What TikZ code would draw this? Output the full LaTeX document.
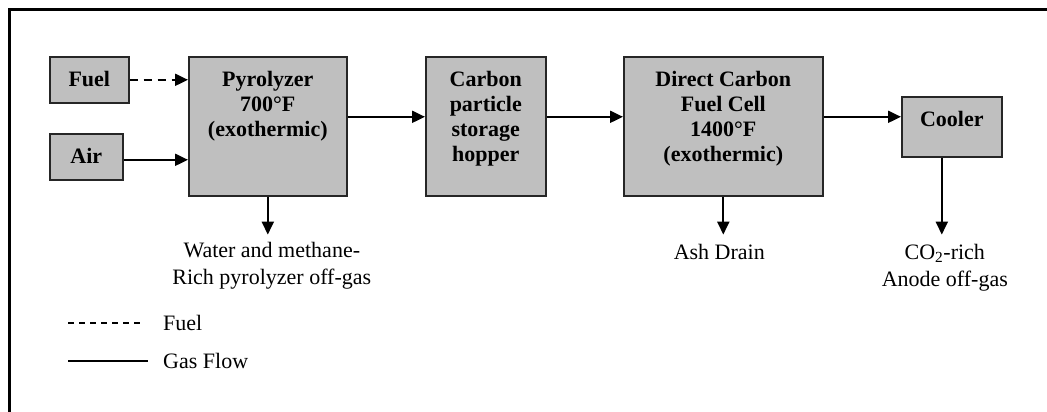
\documentclass[tikz,border=0pt]{standalone}
\usepackage{fontspec}
\setmainfont{Liberation Serif}
\usetikzlibrary{positioning,calc,arrows.meta}
\def\drawflow{\draw[flow]}
\def\unitnode{\node[unit]}

\begin{document}
\begin{tikzpicture}[x=1pt,y=-1pt,
  unit/.style={draw=black!85,line width=1.6pt,fill=gray!50,anchor=north west,inner sep=0pt},
  unittext/.style={align=center,inner sep=0pt,font=\fontsize{22}{25}\selectfont\bfseries},
  outlabel/.style={align=center,inner sep=0pt,font=\fontsize{22}{27}\selectfont},
  legtext/.style={anchor=west,inner sep=0pt,font=\fontsize{22}{27}\selectfont},
  flow/.style={line width=2pt,-{Triangle[length=13pt,width=12pt]}},
  feed/.style={flow,dash pattern=on 8pt off 6pt}]
\useasboundingbox (0,0) rectangle (1047,412);

% frame, only top and left edge are shown
\draw[line width=3.4pt] (9.5,412) -- (9.5,9.5) -- (1047,9.5);

% ---------- the units, text sits at the top of each box
\unitnode[minimum width=79pt,minimum height=46pt] (fuel) at (49,56) {};
\unitnode[minimum width=73pt,minimum height=46pt] (air) at (49,133) {};
\unitnode[minimum width=158pt,minimum height=139pt] (pyro) at (188,56) {};
\unitnode[minimum width=120pt,minimum height=139pt] (hopper) at (425,56) {};
\unitnode[minimum width=199pt,minimum height=139pt] (dcfc) at (623,56) {};
\unitnode[minimum width=100pt,minimum height=60pt] (cooler) at (901,96) {};

\node[unittext,below=15pt of fuel.north] (fueltxt) {Fuel};
\node[unittext,below=15pt of air.north] (airtxt) {Air};
\node[unittext,below=15pt of pyro.north] (pyrotxt) {Pyrolyzer\\700°F\\(exothermic)};
\node[unittext,below=15pt of hopper.north] (hoppertxt) {Carbon\\particle\\storage\\hopper};
\node[unittext,below=15pt of dcfc.north] (dcfctxt) {Direct Carbon\\Fuel Cell\\1400°F\\(exothermic)};
\node[unittext,below=15pt of cooler.north] (coolertxt) {Cooler};

% ---------- main line
\draw[feed] (fuel.east) -- (fuel.east -| pyro.west);
\drawflow ([yshift=-3pt]air.east) -- ([yshift=-3pt]air.east -| pyro.west);
\drawflow ([yshift=9.5pt]pyro.east) -- ([yshift=9.5pt]hopper.west);
\drawflow ([yshift=9.5pt]hopper.east) -- ([yshift=9.5pt]dcfc.west);
\drawflow ([yshift=9.5pt]dcfc.east) -- ([yshift=9.5pt]dcfc.east -| cooler.west);

% ---------- streams leaving downwards
\coordinate (pyroout) at ($ (pyro.south) + (0,38) $);
\coordinate (dcfcout) at ($ (dcfc.south) + (0,38) $);
\coordinate (coolout) at ($ (cooler.south) + (-10,77) $);
\drawflow (pyro.south) -- (pyroout);
\drawflow (dcfc.south) -- (dcfcout);
\drawflow ([xshift=-10pt]cooler.south) -- (coolout);

\node[outlabel,below=7pt of pyroout,xshift=4pt] (pyrogas) {Water and methane-\\Rich pyrolyzer off-gas};
\node[outlabel,below=9pt of dcfcout,xshift=-4pt] (ash) {Ash Drain};
\node[outlabel,below=9pt of coolout,xshift=3pt] (anode) {CO\textsubscript{2}-rich\\Anode off-gas};

% ---------- legend
\coordinate (fuelleg) at (68,323);
\coordinate (gasleg) at (68,361);
\node[legtext] (fuelkey) at (163,323) {Fuel};
\node[legtext] (gaskey) at (163,361) {Gas Flow};
\draw[line width=1.2pt,dash pattern=on 6pt off 5pt] (fuelleg) -- ([xshift=-20pt]fuelleg -| fuelkey.west);
\draw[line width=1.5pt] (gasleg) -- ([xshift=-15pt]gasleg -| gaskey.west);
\end{tikzpicture}
\end{document}
